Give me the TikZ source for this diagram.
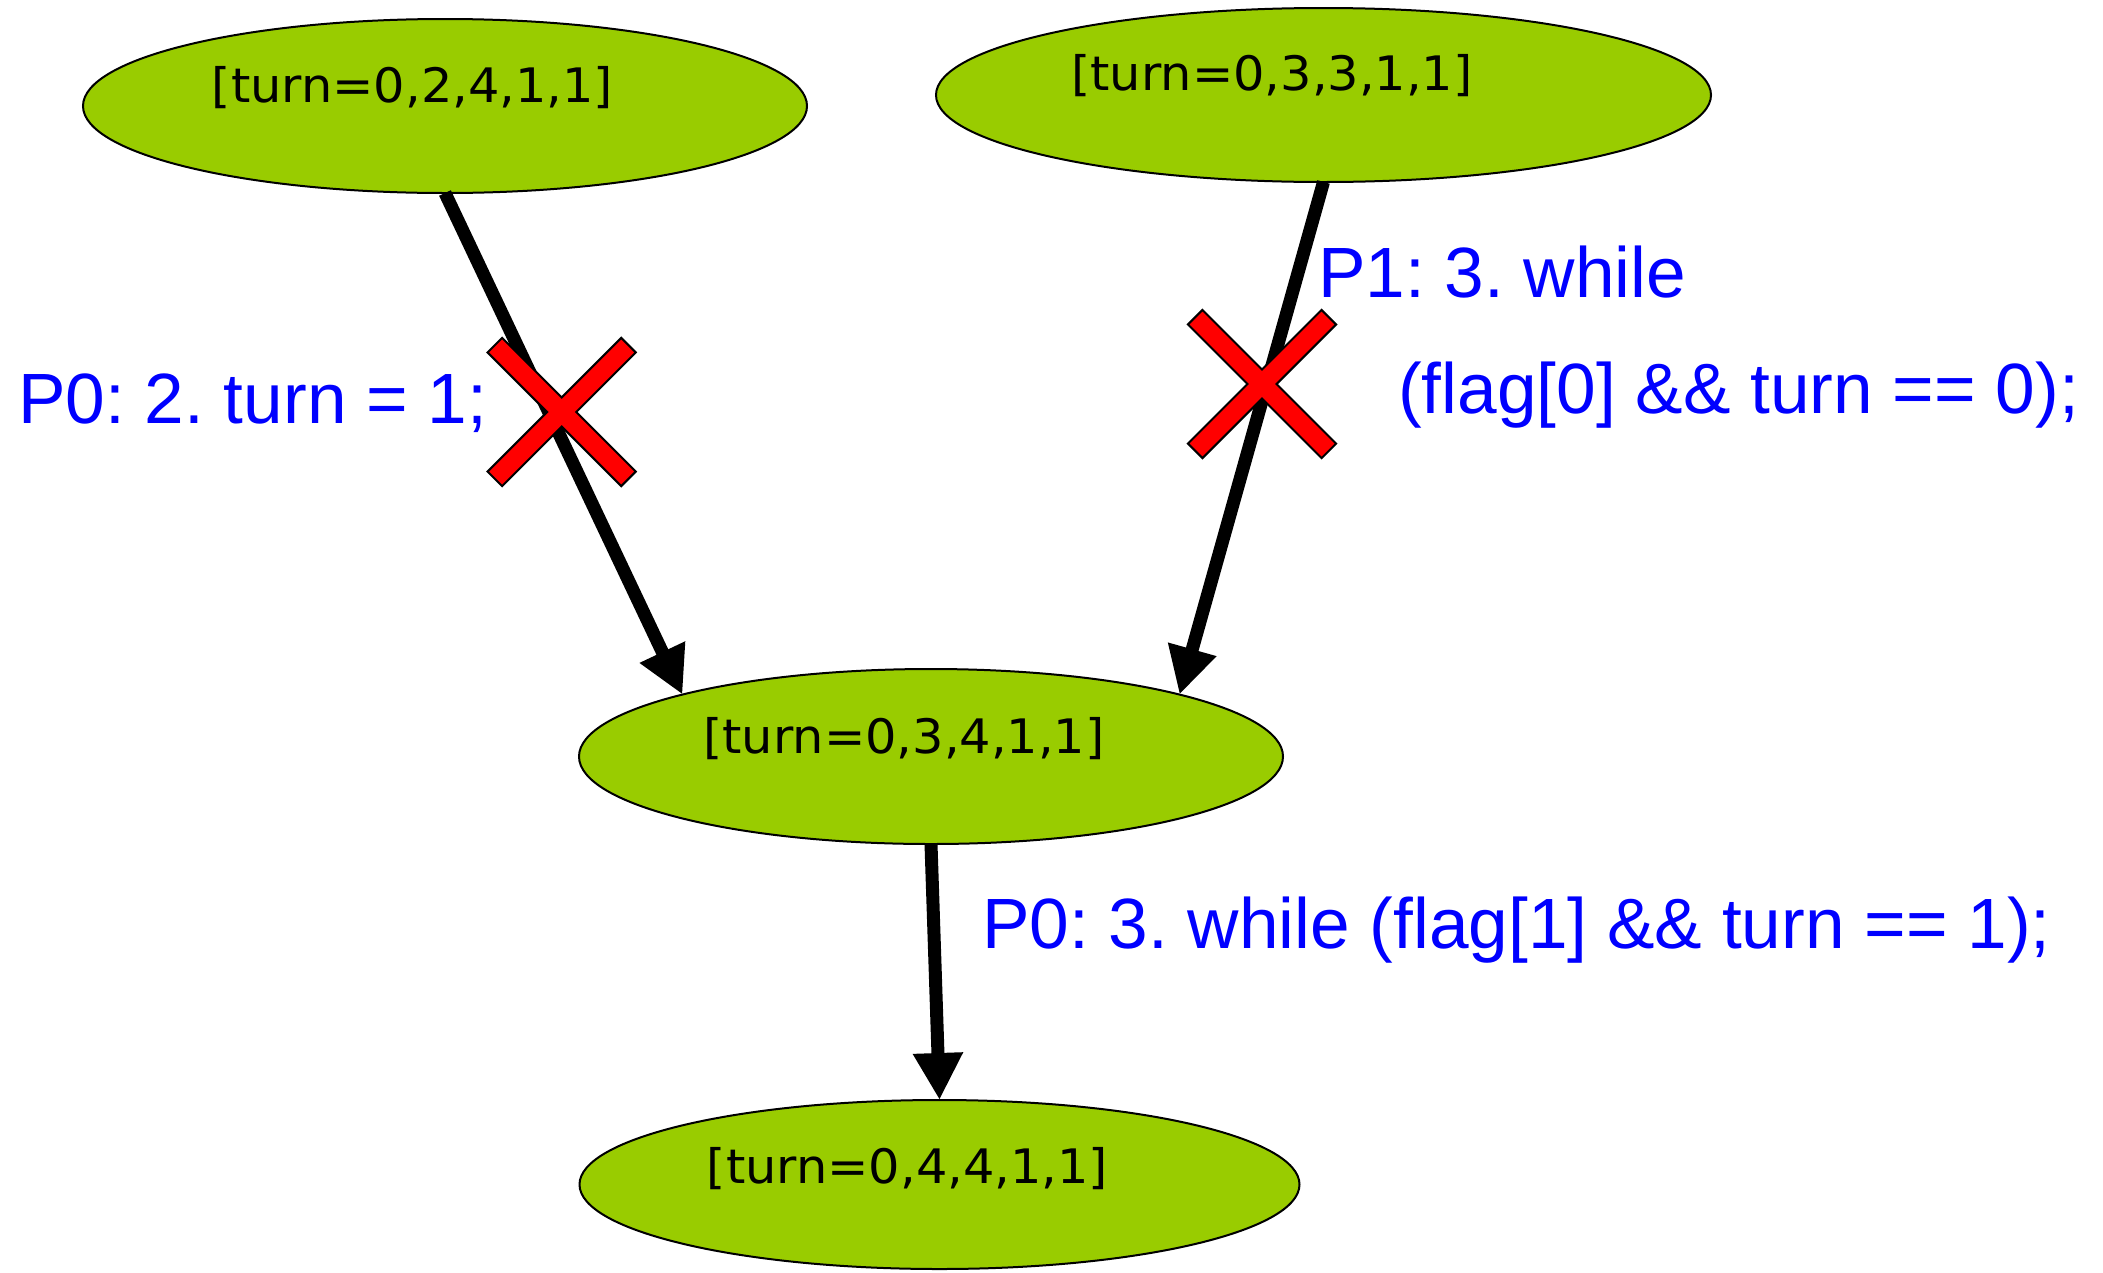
\documentclass[tikz,border=0pt]{standalone}
\usepackage{fontspec}
\setmainfont{Liberation Sans}
\newfontfamily\statefont[FakeStretch=1.04]{DejaVu Sans}
\usetikzlibrary{arrows.meta,calc,shapes.geometric}

\definecolor{stategreen}{RGB}{153,204,0}
\definecolor{labelblue}{RGB}{0,0,255}

\begin{document}
\frenchspacing
\begin{tikzpicture}[x=1pt,y=-1pt,
  state/.style={ellipse,draw=black,line width=2pt,fill=stategreen,
    inner sep=0pt,outer sep=0pt},
  statetext/.style={anchor=base,inner sep=0pt,
    font=\statefont\fontsize{47.5}{52}\selectfont},
  steplabel/.style={anchor=base west,inner sep=0pt,text=labelblue,
    font=\fontsize{71.2}{80}\selectfont},
  conn/.style={line width=13pt,draw=black,
    -{Triangle[length=47pt,width=47pt]}},
  blockmark/.pic={
    \draw[fill=red,draw=black,line width=2pt,line join=miter,rotate=45]
      (10.3,10.3) -- (94.5,10.3) -- (94.5,-10.3) -- (10.3,-10.3)
      -- (10.3,-94.5) -- (-10.3,-94.5) -- (-10.3,-10.3) -- (-94.5,-10.3)
      -- (-94.5,10.3) -- (-10.3,10.3) -- (-10.3,94.5) -- (10.3,94.5) -- cycle;
  }]

\useasboundingbox[fill=white] (0,0) rectangle (2103,1272);

% states
\node[state,minimum width=724pt,minimum height=174pt] (e1) at (445,106) {};
\node[state,minimum width=775pt,minimum height=174pt] (e2) at (1323.5,95) {};
\node[state,minimum width=704pt,minimum height=175pt] (e3) at (931,756.5) {};
\node[state,minimum width=720pt,minimum height=169pt] (e4) at (939.5,1184.5) {};

\node[statetext] (t1) at ($(e1.center)+(-32.5,-4)$) {[turn=0,2,4,1,1]};
\node[statetext] (t2) at ($(e2.center)+(-51.5,-5)$) {[turn=0,3,3,1,1]};
\node[statetext] (t3) at ($(e3.center)+(-27,-3.5)$) {[turn=0,3,4,1,1]};
\node[statetext] (t4) at ($(e4.center)+(-32,-1)$) {[turn=0,4,4,1,1]};

% transitions
\draw[conn] (e1.south) -- (e3.166);
\draw[conn] (e2.south) -- (e3.14);
\draw[conn] (e3.south) -- (e4.north);

% blocked transitions
\pic at (561.7,412) {blockmark};
\pic at (1262,384) {blockmark};

% labels
\node[steplabel] (l1) at (18,423) {P0: 2. turn = 1;};
\node[steplabel] (l2) at (1318,297) {P1: 3. while};
\node[steplabel] (l3) at (1398,413) {(flag[0] \&\& turn == 0);};
\node[steplabel] (l4) at (982,948) {P0: 3. while (flag[1] \&\& turn == 1);};

\end{tikzpicture}
\end{document}
